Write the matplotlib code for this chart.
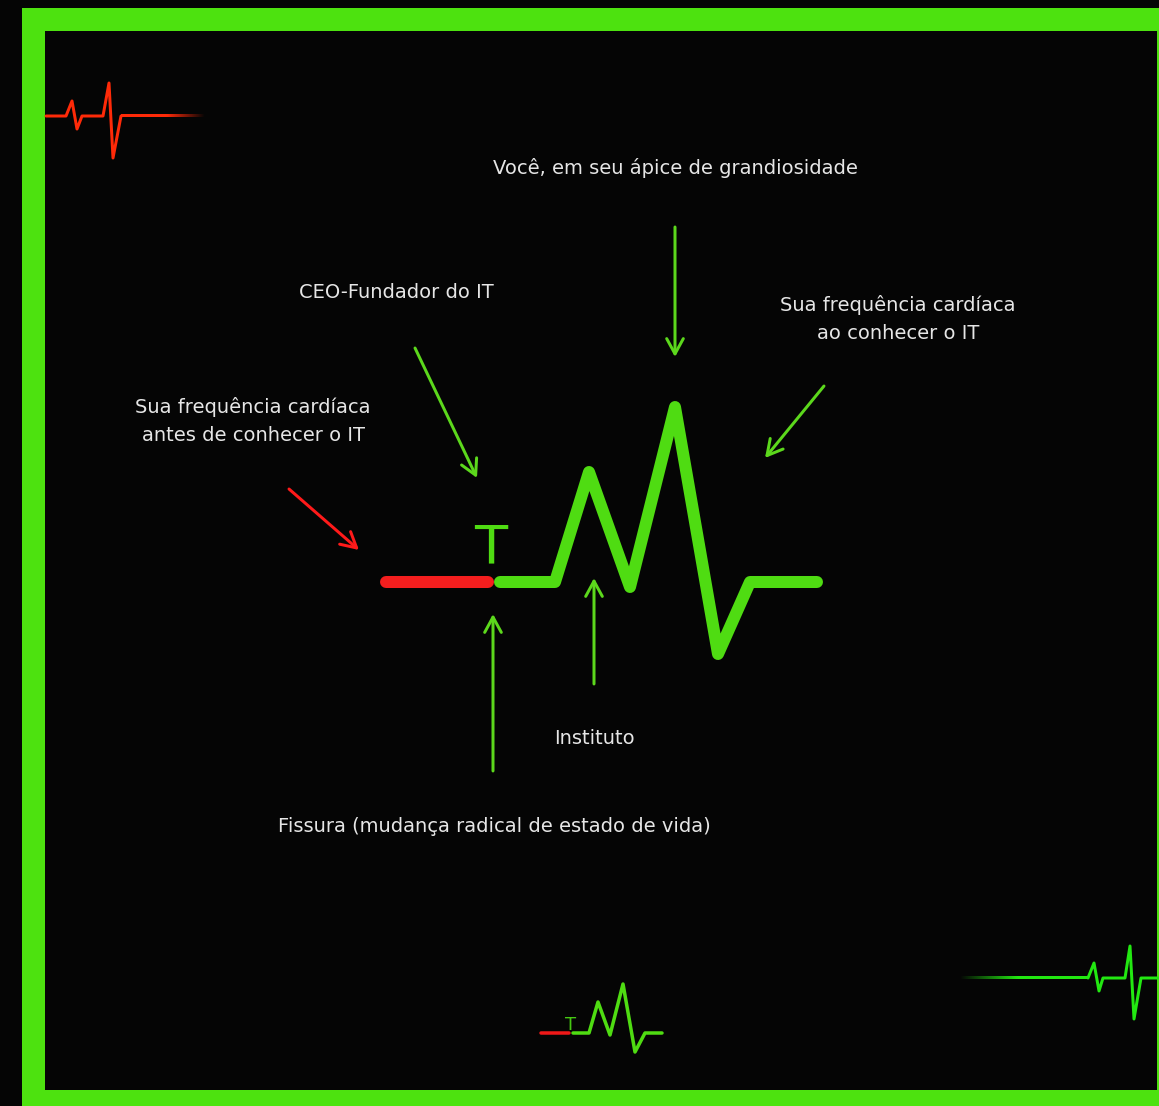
import numpy as np
import matplotlib
matplotlib.use("Agg")
import matplotlib.pyplot as plt
from matplotlib.patches import Rectangle
from matplotlib.colors import to_rgba

# ---------------- data ----------------
# main ECG trace (red = before, green = after)
main_red_x = [386, 488]
main_red_y = [582, 582]
main_green_x = [500, 555, 589, 630, 675, 718, 750, 817]
main_green_y = [582, 582, 472, 587, 407, 654, 582, 582]

# small bottom-centre icon
mini_red_x = [541, 569]
mini_red_y = [1033, 1033]
mini_green_x = [573, 589, 598, 610, 623, 635, 645, 662]
mini_green_y = [1033, 1033, 1002, 1035, 984, 1052, 1033, 1033]

# top-left red ECG
tl_x = [46, 66, 72, 77, 82, 103, 109, 113, 121, 205]
tl_y = [116, 116, 101, 129, 116, 116, 83, 158, 116, 116]

# bottom-right green ECG
br_x = [960, 1088, 1094, 1099, 1103, 1125, 1130, 1134, 1141, 1159]
br_y = [978, 978, 963, 991, 978, 978, 946, 1019, 978, 978]

labels = [
    "Você, em seu ápice de grandiosidade",
    "CEO-Fundador do IT",
    "Sua frequência cardíaca\nao conhecer o IT",
    "Sua frequência cardíaca\nantes de conhecer o IT",
    "Instituto",
    "Fissura (mudança radical de estado de vida)",
]
label_xy = [(675, 168), (396, 293), (898, 319), (253, 421), (594, 739), (494, 827)]

# arrows: (tail, head, colour key)
arrows = [
    ((675, 227), (675, 357), "g"),
    ((415, 348), (477, 478), "g"),
    ((824, 386), (765, 458), "g"),
    ((594, 684), (594, 578), "g"),
    ((493, 771), (493, 614), "g"),
    ((289, 489), (359, 550), "r"),
]

# ---------------- style ----------------
BG = "#050505"
FRAME = "#4de20f"
GREEN = "#4fdc12"
RED = "#f41e1e"
ARROW_G = "#5cd81c"
ARROW_R = "#ff1a1a"
TEXT = "#e6e6e6"
ICON_RED = "#ff2a08"
ICON_GREEN = "#22e811"

W, H = 1159, 1106
fig = plt.figure(figsize=(W / 100, H / 100), dpi=100, facecolor=BG)
ax = fig.add_axes([0, 0, 1, 1])
ax.set_xlim(0, W)
ax.set_ylim(H, 0)
ax.axis("off")
ax.set_facecolor(BG)

px = 0.72  # points per pixel

# frame
ax.add_patch(Rectangle((22, 8), 1300, 1300, facecolor=FRAME, edgecolor="none", zorder=0))
ax.add_patch(Rectangle((45, 31), 1157 - 45, 1090 - 31, facecolor=BG, edgecolor="none", zorder=0.5))

# main trace
ax.plot(main_red_x, main_red_y, color=RED, lw=12 * px, solid_capstyle="round", zorder=3)
ax.plot(main_green_x, main_green_y, color=GREEN, lw=12 * px, solid_capstyle="round",
        solid_joinstyle="round", zorder=3)
ax.text(491, 563, "T", color=GREEN, fontsize=39, family="DejaVu Sans", fontweight="normal",
        ha="center", va="baseline", zorder=3)

# mini trace
ax.plot(mini_red_x, mini_red_y, color="#f01818", lw=3.5 * px, solid_capstyle="round", zorder=3)
ax.plot(mini_green_x, mini_green_y, color=GREEN, lw=3.5 * px, solid_capstyle="round",
        solid_joinstyle="round", zorder=3)
ax.text(571, 1030, "T", color="#45c812", fontsize=13, family="DejaVu Sans",
        ha="center", va="baseline", zorder=3)


def faded_trace(xs, ys, color, fade_side):
    xs = list(xs); ys = list(ys)
    lw = 3 * px
    if fade_side == "right":
        solid_x, solid_y = xs[:-1], ys[:-1]
        fx0, fx1, fy = xs[-2], xs[-1], ys[-1]
    else:
        solid_x, solid_y = xs[1:], ys[1:]
        fx0, fx1, fy = xs[1], xs[0], ys[0]
    ax.plot(solid_x, solid_y, color=color, lw=lw, solid_capstyle="round",
            solid_joinstyle="round", zorder=3)
    n = 200
    t = np.linspace(0, 1, n)
    alpha = 1 - np.clip((t - 0.55) / 0.45, 0, 1)
    img = np.zeros((1, n, 4))
    img[0, :, :3] = to_rgba(color)[:3]
    img[0, :, 3] = alpha
    left, right = (fx0, fx1) if fx1 > fx0 else (fx1, fx0)
    if fx1 < fx0:
        img = img[:, ::-1, :]
    ax.imshow(img, extent=(left, right, fy + 1.5, fy - 1.5), aspect="auto",
              interpolation="bilinear", zorder=3)


faded_trace(tl_x, tl_y, ICON_RED, "right")
faded_trace(br_x, br_y, ICON_GREEN, "left")
ax.set_xlim(0, W)
ax.set_ylim(H, 0)

# labels
for s, (x, y) in zip(labels, label_xy):
    ax.text(x, y, s, color=TEXT, fontsize=14, family="DejaVu Sans", ha="center", va="center",
            linespacing=1.6, zorder=4)

# arrows
for (x0, y0), (x1, y1), c in arrows:
    col = ARROW_G if c == "g" else ARROW_R
    ax.annotate("", xy=(x1, y1), xytext=(x0, y0),
                arrowprops=dict(arrowstyle="->,head_length=0.55,head_width=0.3",
                                color=col, lw=3 * px, shrinkA=0, shrinkB=0,
                                mutation_scale=20, capstyle="round"),
                zorder=4)

fig.savefig("out.png", dpi=100, facecolor=BG)
